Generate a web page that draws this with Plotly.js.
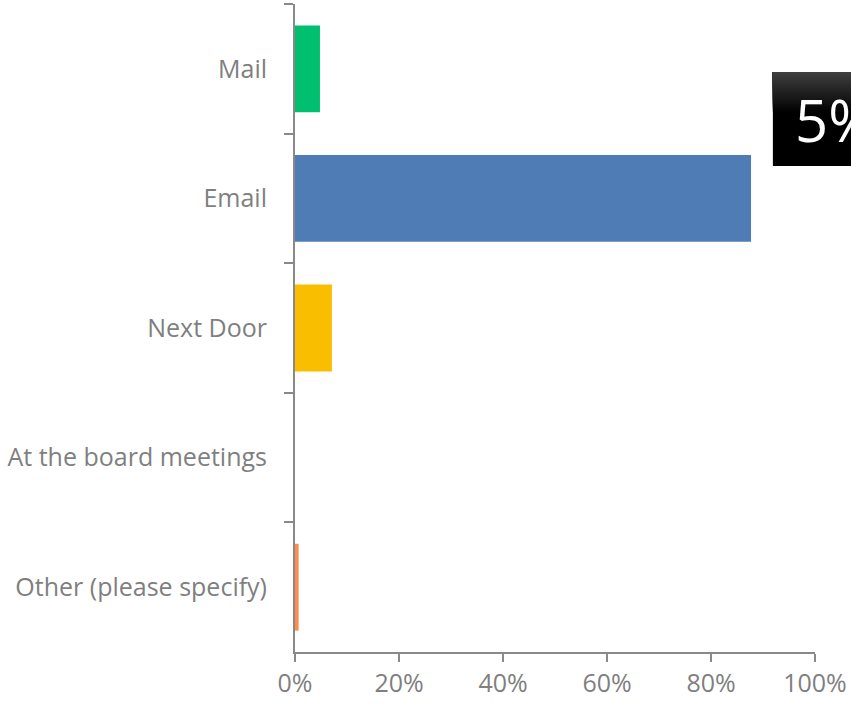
<!DOCTYPE html>
<html>
<head>
<meta charset="utf-8">
<script src="https://cdn.plot.ly/plotly-3.0.1.min.js"></script>
<style>html,body{margin:0;padding:0;background:#fff;}#chart{width:851px;height:706px;}</style>
</head>
<body>
<div id="chart"></div>
<script>
const categories = ["Mail", "Email", "Next Door", "At the board meetings", "Other (please specify)"];
const values = [0.048, 0.877, 0.071, 0, 0.007];
const barColors = ["#00BF6F", "#507CB6", "#F9BE00", "#A5A5A5", "#FF8B4F"];
const xTickValues = [0, 0.2, 0.4, 0.6, 0.8, 1.0];
const xTickLabels = ["0%", "20%", "40%", "60%", "80%", "100%"];
const calloutText = "5%";

const gray = "#7f7f7f";
const font = {family: "Open Sans, sans-serif", size: 25, color: gray};

const boxShapes = [];
const boxTop = 0.895, boxBottom = 0.75;
const pxH = 1 / 648;
const nStripes = 20;
boxShapes.push({type: "rect", xref: "paper", yref: "paper", x0: 0.919, x1: 1.2, y0: boxBottom, y1: boxTop,
  fillcolor: "#000000", line: {width: 0}, layer: "above"});
for (let i = 0; i < nStripes; i++) {
  const g = Math.round(62 * (i + 1) / nStripes);
  boxShapes.push({type: "rect", xref: "paper", yref: "paper", x0: 0.919, x1: 1.2,
    y0: boxTop - (nStripes - i) * 2 * pxH, y1: boxTop,
    fillcolor: "rgb(" + g + "," + g + "," + g + ")", line: {width: 0}, layer: "above"});
}

Plotly.newPlot("chart", [{
  type: "bar",
  orientation: "h",
  y: categories,
  x: values,
  marker: {color: barColors},
  hoverinfo: "none"
}], {
  width: 851, height: 706,
  margin: {l: 295, r: 36, t: 4, b: 54, pad: 0},
  paper_bgcolor: "#ffffff", plot_bgcolor: "#ffffff",
  bargap: 0.33,
  showlegend: false,
  font: font,
  xaxis: {
    range: [0, 1], tickvals: xTickValues, ticktext: xTickLabels,
    showgrid: false, zeroline: false, showline: true, linecolor: "#898989", linewidth: 2,
    ticks: "outside", ticklen: 8, tickwidth: 2, tickcolor: "#898989",
    tickfont: font, fixedrange: true
  },
  yaxis: {
    autorange: "reversed", showgrid: false, zeroline: false, showline: true,
    linecolor: "#898989", linewidth: 2,
    ticks: "outside", ticklen: 9, tickwidth: 2, tickcolor: "#898989",
    tickson: "boundaries", ticklabelstandoff: 21,
    tickfont: font, fixedrange: true
  },
  shapes: boxShapes,
  annotations: [{
    xref: "paper", yref: "paper", x: 0.958, y: 0.8225, xanchor: "left", yanchor: "middle",
    text: calloutText, showarrow: false,
    font: {family: "Open Sans, sans-serif", size: 58, color: "#ffffff"}
  }]
}, {displayModeBar: false, staticPlot: true});
</script>
</body>
</html>
